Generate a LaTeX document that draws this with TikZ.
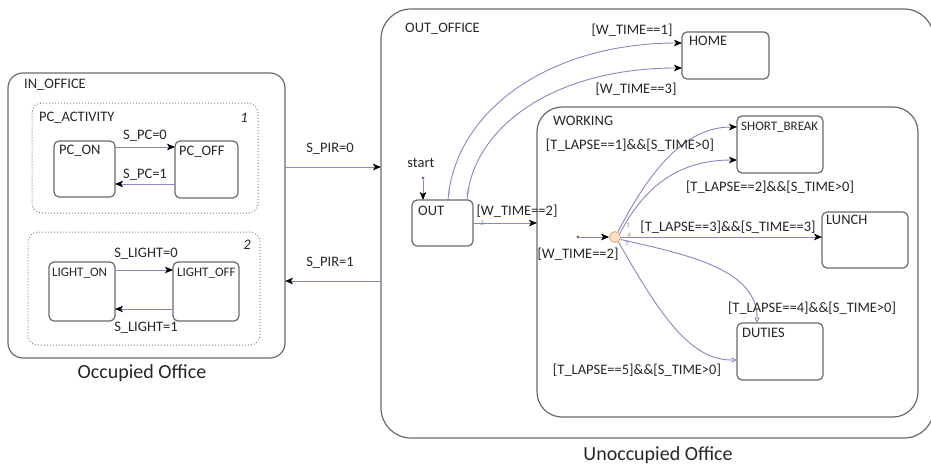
\documentclass[tikz,border=0pt]{standalone}
\usepackage{fontspec}
\setmainfont{Carlito}
\usetikzlibrary{arrows.meta,calc}
\definecolor{tr}{HTML}{8488C0}
\definecolor{bx}{HTML}{6A6A6A}
\definecolor{jfill}{HTML}{FBE3C3}
\definecolor{jdraw}{HTML}{D9A66E}
\tikzset{
  box/.style={draw=bx,line width=1.2pt,rectangle,inner sep=0pt,outer sep=0pt},
  grp/.style={draw=bx!80,line width=1pt,dotted,rectangle,inner sep=0pt,outer sep=0pt,rounded corners=10pt},
  st/.style={box,rounded corners=5pt},
  lbl/.style={inner sep=0pt,font=\fontsize{14.5}{17}\selectfont,text=black!85},
  slbl/.style={inner sep=0pt,font=\fontsize{13}{15}\selectfont,text=black!85},
  ttl/.style={inner sep=0pt,font=\fontsize{20}{24}\selectfont,text=black!85},
  num/.style={inner sep=0pt,font=\fontsize{7}{8}\selectfont\itshape,text=tr},
  tran/.style={draw=tr,line width=0.9pt,-{Stealth[length=8pt,width=6.5pt,inset=2pt,color=black]}},
  otran/.style={draw=tr,line width=0.9pt,-{Triangle[open,length=5.5pt,width=5pt,color=tr]}},
  dotst/.style={circle,fill=tr!80!black,inner sep=0pt,minimum size=3.2pt},
}
\begin{document}
\begin{tikzpicture}[x=1pt,y=-1pt]
\useasboundingbox (0,0) rectangle (931,464);
\clip (0,0) rectangle (931,464);
% ---------- IN_OFFICE ----------
\node[box,rounded corners=15pt,minimum width=277,minimum height=285] (inoff) at (146.5,215.5) {};
\node[lbl,anchor=base west] (inofft) at (24,88.7) {IN\_OFFICE};
\node[grp,minimum width=226,minimum height=110] (pcact) at (145,158) {};
\node[lbl,anchor=base west] (pcactt) at (39,121.7) {PC\_ACTIVITY};
\node[lbl,font=\fontsize{14.5}{17}\selectfont\itshape] (one) at (244,118) {1};
\node[st,minimum width=61,minimum height=56] (pcon) at (84.5,169) {};
\node[lbl,anchor=base west] (pcont) at (59,154.7) {PC\_ON};
\node[st,minimum width=63,minimum height=57] (pcoff) at (206.5,169.5) {};
\node[lbl,anchor=base west] (pcofft) at (179,155.7) {PC\_OFF};
\draw[tran] (pcon.east |- 0,147) -- (pcoff.west |- 0,147);
\draw[tran] (pcoff.west |- 0,184) -- (pcon.east |- 0,184);
\node[lbl] (spc0) at (145,136) {S\_PC=0};
\node[lbl] (spc1) at (145,175) {S\_PC=1};
\node[grp,minimum width=232,minimum height=113] (lgrp) at (144,288.5) {};
\node[lbl,font=\fontsize{14.5}{17}\selectfont\itshape] (two) at (247,245) {2};
\node[st,minimum width=66,minimum height=59] (lon) at (82,291.5) {};
\node[slbl,anchor=base west] (lont) at (52,276.5) {LIGHT\_ON};
\node[st,minimum width=66,minimum height=59] (loff) at (206,291.5) {};
\node[slbl,anchor=base west] (lofft) at (177,276.5) {LIGHT\_OFF};
\draw[tran] (lon.east |- 0,270) -- (loff.west |- 0,270);
\draw[tran] (loff.west |- 0,309) -- (lon.east |- 0,309);
\node[lbl] (sl0) at (146,254) {S\_LIGHT=0};
\node[lbl] (sl1) at (146,328) {S\_LIGHT=1};
\node[ttl] (occ) at (142,373) {Occupied Office};
% ---------- OUT_OFFICE ----------
\node[box,rounded corners=30pt,minimum width=553,minimum height=429] (outoff) at (657.5,223.5) {};
\node[lbl,anchor=base west] (outofft) at (405,32.7) {OUT\_OFFICE};
\draw[tran] (inoff.east |- 0,167) -- (outoff.west |- 0,167);
\draw[tran] (outoff.west |- 0,281) -- (inoff.east |- 0,281);
\node[lbl] (spir0) at (330,149) {S\_PIR=0};
\node[lbl] (spir1) at (330,263) {S\_PIR=1};
\node[st,minimum width=87,minimum height=47] (home) at (725.5,55.5) {};
\node[lbl,anchor=base west] (homet) at (689,45.7) {HOME};
\node[st,minimum width=61,minimum height=46] (out) at (442.5,223) {};
\node[lbl,anchor=base west] (outt) at (418,215.7) {OUT};
\node[lbl] (start) at (421,163) {start};
\node[dotst] (sdot) at (423,178) {};
\draw[tran] (sdot) -- (sdot |- out.north);
\draw[tran] (448,0 |- out.north) .. controls (455,110) and (550,43) .. (home.west |- 0,43);
\draw[tran] (467,0 |- out.north) .. controls (472,130) and (550,68) .. (home.west |- 0,68);
\node[num] (n1) at (449,192) {1};
\node[num] (n2) at (468,192) {2};
\node[lbl] (w1) at (632,30) {[W\_TIME==1]};
\node[lbl] (w3) at (636,89) {[W\_TIME==3]};
% ---------- WORKING ----------
\node[box,rounded corners=25pt,minimum width=381,minimum height=310] (work) at (727.5,262) {};
\node[lbl,anchor=base west] (workt) at (553,125.7) {WORKING};
\draw[tran] (out.east |- 0,223) -- (work.west |- 0,223);
\node[num] (n3) at (482,223.5) {3};
\node[lbl] (w2a) at (517,211) {[W\_TIME==2]};
\node[st,minimum width=86,minimum height=57] (sb) at (780,144.5) {};
\node[slbl,anchor=base west] (sbt) at (741,130.5) {SHORT\_BREAK};
\node[st,minimum width=86,minimum height=56] (lunch) at (865,240) {};
\node[lbl,anchor=base west] (luncht) at (826,224.7) {LUNCH};
\node[st,minimum width=86,minimum height=57] (duties) at (780,351.5) {};
\node[lbl,anchor=base west] (dutiest) at (742,337.7) {DUTIES};
\node[circle,draw=jdraw,fill=jfill,line width=0.8pt,minimum size=11pt,inner sep=0pt] (jn) at (615,237) {};
\node[dotst] (wdot) at (578,237) {};
\draw[tran] (wdot) -- (jn.west);
\node[lbl] (w2b) at (578,254) {[W\_TIME==2]};
\draw[tran] (jn.60) .. controls (655,160) and (690,127) .. (sb.west |- 0,127);
\draw[tran] (jn.35) .. controls (645,185) and (680,160) .. (sb.west |- 0,160);
\draw[tran] (jn.east) -- (lunch.west |- jn.east);
\draw[otran] (jn.-25) .. controls (690,255) and (757,270) .. (757,0 |- duties.north);
\draw[otran] (jn.-55) .. controls (660,315) and (690,360) .. (duties.west |- 0,360);
\node[num] (j1) at (628,225) {1};
\node[num] (j4) at (629,235) {4};
\node[num] (j5) at (627,243) {5};
\node[lbl] (t1) at (630,145) {[T\_LAPSE==1]\&\&[S\_TIME>0]};
\node[lbl] (t2) at (770,187) {[T\_LAPSE==2]\&\&[S\_TIME>0]};
\node[lbl] (t3) at (728,227) {[T\_LAPSE==3]\&\&[S\_TIME==3]};
\node[lbl] (t4) at (812,308) {[T\_LAPSE==4]\&\&[S\_TIME>0]};
\node[lbl] (t5) at (637,370) {[T\_LAPSE==5]\&\&[S\_TIME>0]};
\node[ttl] (unocc) at (658,455) {Unoccupied Office};
\end{tikzpicture}
\end{document}
